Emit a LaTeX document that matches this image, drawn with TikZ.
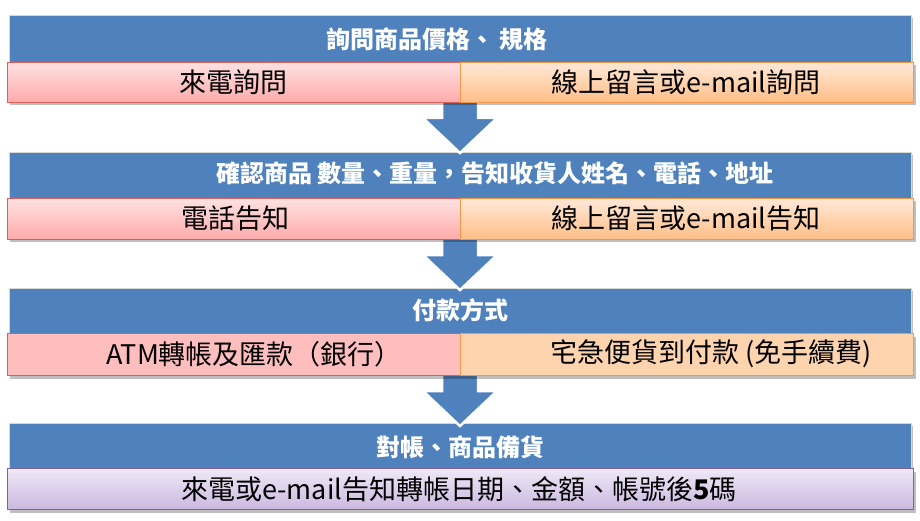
\documentclass[tikz,border=0pt]{standalone}
\usepackage{fontspec}
\setmainfont{Noto Sans CJK TC}
\usetikzlibrary{shadows}
\definecolor{hdrblue}{HTML}{4F81BD}
\definecolor{pinktop}{HTML}{FFE2E2}
\definecolor{pinkbot}{HTML}{FFAAAA}
\definecolor{pinkline}{HTML}{D9605C}
\definecolor{orgtop}{HTML}{FFE9D8}
\definecolor{orgbot}{HTML}{FFBE86}
\definecolor{orgline}{HTML}{F79646}
\definecolor{pinkflat}{HTML}{FFBEBE}
\definecolor{orgflat}{HTML}{FED4AE}
\definecolor{purtop}{HTML}{EFE9F7}
\definecolor{purbot}{HTML}{CBB8E0}
\definecolor{purline}{HTML}{8064A2}
\tikzset{
  shad/.style={drop shadow={shadow xshift=2pt, shadow yshift=-3pt, fill=black, opacity=0.25}},
  header/.style={fill=hdrblue, draw=white!85!black, line width=0.6pt, shad, anchor=north west, inner sep=0pt},
  subbox/.style={anchor=north west, inner sep=0pt, line width=1pt, shad},
  pinkbox/.style={subbox, draw=pinkline, top color=pinktop, bottom color=pinkbot},
  orgbox/.style={subbox, draw=orgline, top color=orgtop, bottom color=orgbot},
  pinkflatbox/.style={subbox, draw=pinkline, fill=pinkflat},
  orgflatbox/.style={subbox, draw=orgline, fill=orgflat},
  purbox/.style={subbox, draw=purline, top color=purtop, bottom color=purbot},
  htext/.style={text=white, font=\fontsize{24}{28}\selectfont\bfseries, inner sep=0pt},
  stext/.style={text=black, font=\fontsize{27}{31}\selectfont, inner sep=0pt},
  blockarrow/.style={fill=hdrblue, draw=white, line width=2.5pt, line join=miter},
}
\begin{document}
\begin{tikzpicture}[x=1pt,y=-1pt]
\useasboundingbox (0,0) rectangle (920,521);
\fill[white] (0,0) rectangle (920,521);
% headers
\node[header, minimum width=902pt, minimum height=50pt] (h1) at (9,15) {};
\node[header, minimum width=902pt, minimum height=48pt] (h2) at (9,152) {};
\node[header, minimum width=902pt, minimum height=48pt] (h3) at (9,288) {};
\node[header, minimum width=902pt, minimum height=48pt] (h4) at (9,423) {};
% arrows
\coordinate (a1) at (460,100);
\coordinate (a2) at (460,237);
\coordinate (a3) at (460,373);
\foreach \c in {a1,a2,a3}{
  \draw[blockarrow] ([xshift=-18pt]\c) -- ([xshift=18pt]\c) -- ([xshift=18pt,yshift=-18pt]\c)
    -- ([xshift=37pt,yshift=-18pt]\c) -- ([yshift=-53pt]\c) -- ([xshift=-37pt,yshift=-18pt]\c)
    -- ([xshift=-18pt,yshift=-18pt]\c) -- cycle;
}
% header texts
\node[htext] (t1) at (437,39) {詢問商品價格、 規格};
\node[htext] (t2) at (495,173) {確認商品 數量、重量，告知收貨人姓名、電話、地址};
\node[htext] (t3) at (460,310) {付款方式};
\node[htext] (t4) at (460,447) {對帳、商品備貨};
% sub boxes
\node[pinkbox, minimum width=453pt, minimum height=40pt] (s1l) at (7,62) {};
\node[orgbox, minimum width=453pt, minimum height=40pt] (s1r) at (460,62) {};
\node[pinkbox, minimum width=453pt, minimum height=41pt] (s2l) at (7,198) {};
\node[orgbox, minimum width=453pt, minimum height=41pt] (s2r) at (460,198) {};
\node[pinkflatbox, minimum width=453pt, minimum height=42pt] (s3l) at (7,333) {};
\node[orgflatbox, minimum width=453pt, minimum height=42pt] (s3r) at (460,333) {};
\node[purbox, minimum width=906pt, minimum height=41pt] (s4) at (7,468) {};
% sub texts
\node[stext] (u1l) at (233,82) {來電詢問};
\node[stext] (u1r) at (686,82) {線上留言或e-mail詢問};
\node[stext] (u2l) at (235,218) {電話告知};
\node[stext] (u2r) at (686,218) {線上留言或e-mail告知};
\node[stext] (u3l) at (254,354) {ATM轉帳及匯款（銀行）};
\node[stext] (u3r) at (711,354) {宅急便貨到付款 (免手續費)};
\node[stext] (u4) at (459,489) {來電或e-mail告知轉帳日期、金額、帳號後\textbf{5}碼};
\end{tikzpicture}
\end{document}
